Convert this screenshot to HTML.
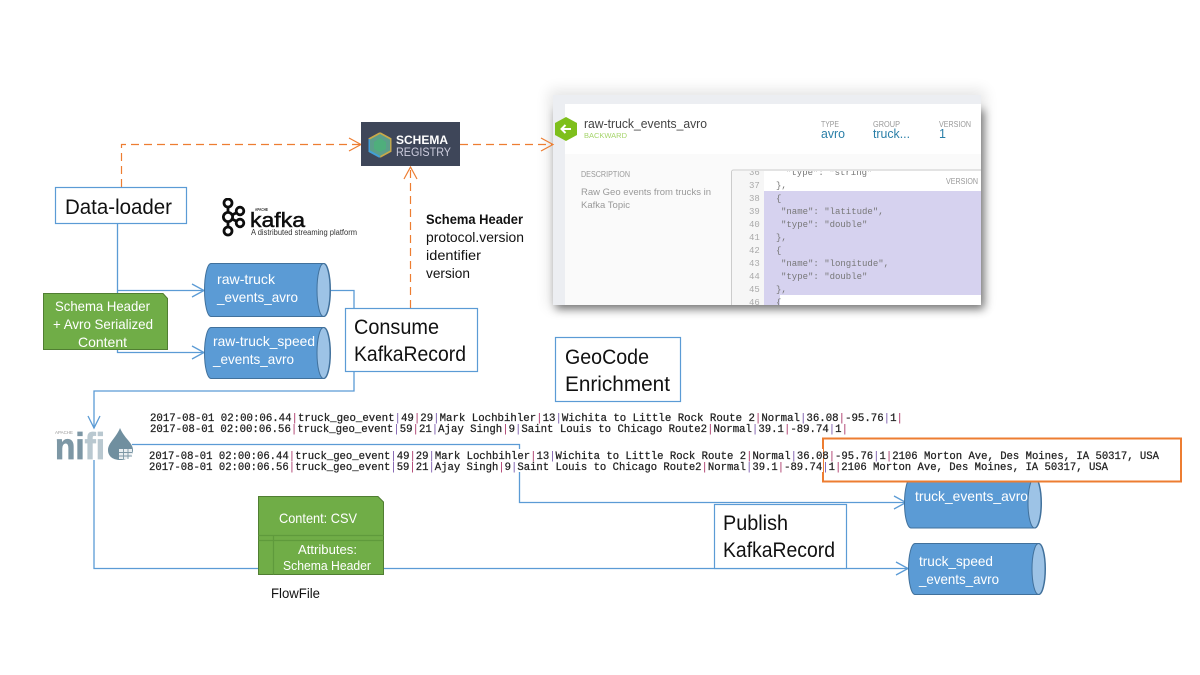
<!DOCTYPE html>
<html><head><meta charset="utf-8"><style>
html,body{margin:0;padding:0;background:#fff;width:1200px;height:675px;overflow:hidden}
svg{display:block}
text{font-family:"Liberation Sans",sans-serif}
.c{font-size:14px;fill:#111}
.w{font-size:14px;fill:#fff}
.b{font-size:21.5px;fill:#111}
.m{font-family:"Liberation Mono",monospace;font-size:10.7px;fill:#222;stroke:#222;stroke-width:.25}
.m tspan{fill:#a36;stroke:none}
.m tspan.p{fill:#75a}
.cd{font-family:"Liberation Mono",monospace;font-size:9px;fill:#777}
.n{font-family:"Liberation Mono",monospace;font-size:9px;fill:#aaa}
.g{font-size:8px;fill:#999}
.bl{font-size:12.5px;fill:#2b7fa8}
</style></head><body>
<svg width="1200" height="675" viewBox="0 0 1200 675" xmlns="http://www.w3.org/2000/svg">
<defs>
<filter id="sh" filterUnits="userSpaceOnUse" x="520" y="60" width="500" height="290"><feGaussianBlur stdDeviation="4.5"/></filter>
<filter id="sh2" filterUnits="userSpaceOnUse" x="520" y="60" width="500" height="290"><feGaussianBlur stdDeviation="7"/></filter>
<filter id="bl" x="-2%" y="-2%" width="104%" height="104%"><feGaussianBlur stdDeviation="0.35"/></filter>
<clipPath id="code"><rect x="732" y="171" width="249" height="134"/></clipPath>
</defs>

<!-- Screenshot panel -->
<rect x="549" y="90" width="436" height="218" fill="#000" opacity=".1" filter="url(#sh2)"/>
<rect x="556" y="110" width="428" height="199" fill="#000" opacity=".5" filter="url(#sh)"/>
<g filter="url(#bl)">
<rect x="553" y="95" width="428" height="210" fill="#eceef2"/>
<rect x="565" y="104" width="416" height="201" fill="#fafafa"/>
<rect x="565" y="104" width="416" height="50" fill="#fff"/>
<polygon points="566,117 577,123 577,135 566,141 555,135 555,123" fill="#7ebf1e"/>
<path d="M571 129h-9M565.500 125l-4 4 4 4" stroke="#fff" stroke-width="2" fill="none"/>
<text x="584" y="128" font-size="12.500" fill="#444" textLength="123" lengthAdjust="spacingAndGlyphs">raw-truck_events_avro</text>
<text x="584" y="138" font-size="7.500" fill="#a5d46a" textLength="43" lengthAdjust="spacingAndGlyphs">BACKWARD</text>
<text x="821" y="127" class="g" textLength="18" lengthAdjust="spacingAndGlyphs">TYPE</text>
<text x="821" y="138" class="bl" textLength="24" lengthAdjust="spacingAndGlyphs">avro</text>
<text x="873" y="127" class="g" textLength="27" lengthAdjust="spacingAndGlyphs">GROUP</text>
<text x="873" y="138" class="bl" textLength="37" lengthAdjust="spacingAndGlyphs">truck...</text>
<text x="939" y="127" class="g" textLength="32" lengthAdjust="spacingAndGlyphs">VERSION</text>
<text x="939" y="138" class="bl">1</text>
<text x="581" y="177" class="g" textLength="49" lengthAdjust="spacingAndGlyphs">DESCRIPTION</text>
<text x="581" y="195" font-size="9.500" fill="#999" textLength="130" lengthAdjust="spacingAndGlyphs">Raw Geo events from trucks in</text>
<text x="581" y="208" font-size="9.500" fill="#999" textLength="49" lengthAdjust="spacingAndGlyphs">Kafka Topic</text>
<path d="M731.500 305V172a2 2 0 0 1 2-2H981" fill="none" stroke="#ccc"/>
<rect x="732" y="171" width="249" height="134" fill="#fff"/>
<rect x="732" y="171" width="32" height="134" fill="#f6f6f6"/>
<rect x="764" y="191" width="217" height="104" fill="#d6d2ef"/>
<rect x="764" y="295" width="16" height="10" fill="#d6d2ef"/>
<g clip-path="url(#code)">
<text class="n" x="749" y="175">36</text><text class="n" x="749" y="188">37</text>
<text class="n" x="749" y="201">38</text><text class="n" x="749" y="214">39</text>
<text class="n" x="749" y="227">40</text><text class="n" x="749" y="240">41</text>
<text class="n" x="749" y="253">42</text><text class="n" x="749" y="266">43</text>
<text class="n" x="749" y="279">44</text><text class="n" x="749" y="292">45</text>
<text class="n" x="749" y="305">46</text>
<text class="cd" x="786" y="175">"type": "string"</text>
<text class="cd" x="776" y="188">},</text>
<text class="cd" x="776" y="201">{</text>
<text class="cd" x="781" y="214">"name": "latitude",</text>
<text class="cd" x="781" y="227">"type": "double"</text>
<text class="cd" x="776" y="240">},</text>
<text class="cd" x="776" y="253">{</text>
<text class="cd" x="781" y="266">"name": "longitude",</text>
<text class="cd" x="781" y="279">"type": "double"</text>
<text class="cd" x="776" y="292">},</text>
<text class="cd" x="776" y="305">{</text>
</g>
<rect x="946" y="175" width="35" height="12" fill="#fff" opacity=".85"/>
<text x="946" y="184" class="g" textLength="32" lengthAdjust="spacingAndGlyphs">VERSION</text>
</g>

<!-- Blue connectors -->
<g fill="none" stroke="#5b9bd5" stroke-width="1.300">
<path d="M117.500 223V352.500H204M117.500 290.500H204"/>
<path d="M192 284l12 6.500-12 6.500M192 346l12 6.500-12 6.500"/>
<path d="M330 290.500H354V391H94V428"/>
<path d="M88 416l6 12 6-12"/>
<path d="M94 460V568.500H258M384 568.500H908"/>
<path d="M896 562l12 6.500-12 6.500"/>
<path d="M132 444.500H519.500V502.500H906"/>
<path d="M894 496l12 6.500-12 6.500"/>
</g>

<!-- Orange connectors -->
<g fill="none" stroke="#ed7d31" stroke-width="1.200">
<path d="M121.500 187V144.500H361" stroke-dasharray="8 5"/>
<path d="M349 138l12 6.500-12 6.500"/>
<path d="M460 144.500H552" stroke-dasharray="8 5"/>
<path d="M541 138l12 6.500-12 6.500"/>
<path d="M410.500 308V167" stroke-dasharray="8 5"/>
<path d="M404 179l6.500-12 6.500 12"/>
</g>

<!-- Schema registry -->
<rect x="361" y="122" width="99" height="44" fill="#3e4659"/>
<g filter="url(#bl)">
<polygon points="380,133 391,139 391,151 380,157 369,151 369,139" fill="#5b9e8a" stroke="#c9a94a" stroke-width="1.800"/>
<polygon points="380,138 386,142 386,149 380,152 374,149 374,142" fill="#4fae7c"/>
<path d="M369 139v12l11 6" stroke="#3f9fd8" stroke-width="2" fill="none"/>
</g>
<text x="396" y="144" font-size="12" font-weight="bold" fill="#fff" textLength="52" lengthAdjust="spacingAndGlyphs">SCHEMA</text>
<text x="396" y="156" font-size="12" fill="#ccd" textLength="55" lengthAdjust="spacingAndGlyphs">REGISTRY</text>

<!-- Data loader -->
<rect x="55.500" y="187.500" width="131" height="36" fill="#fff" stroke="#5b9bd5" stroke-width="1.200"/>
<text x="65" y="214" class="b" textLength="107" lengthAdjust="spacingAndGlyphs">Data-loader</text>

<!-- Kafka -->
<g filter="url(#bl)">
<g fill="none" stroke="#111" stroke-width="2.800">
<path d="M228 203V231M228 217L240 211M228 217L240 223"/>
<circle cx="228" cy="203" r="4" fill="#fff"/>
<circle cx="228" cy="217" r="4.600" fill="#fff"/>
<circle cx="240" cy="211" r="3.800" fill="#fff"/>
<circle cx="240" cy="223" r="3.800" fill="#fff"/>
<circle cx="228" cy="231" r="4" fill="#fff"/>
</g>
<text x="255" y="211" font-size="4.500" font-weight="bold" fill="#333" textLength="13" lengthAdjust="spacingAndGlyphs">APACHE</text>
<text x="250" y="227" font-size="20" fill="#111" stroke="#111" stroke-width=".5" textLength="55" lengthAdjust="spacingAndGlyphs">kafka</text>
<text x="251" y="235" font-size="8" fill="#333" textLength="106" lengthAdjust="spacingAndGlyphs">A distributed streaming platform</text>
</g>

<!-- Cylinders -->
<g stroke="#41719c" stroke-width="1">
<path d="M211 263.500H324A6.500 26.500 0 0 1 324 316.500H211A6.500 26.500 0 0 1 211 263.500Z" fill="#5b9bd5"/>
<ellipse cx="323.500" cy="290" rx="6.500" ry="26.500" fill="#9dc3e6"/>
<path d="M211 327.500H324A6.500 25.500 0 0 1 324 378.500H211A6.500 25.500 0 0 1 211 327.500Z" fill="#5b9bd5"/>
<ellipse cx="323.500" cy="353" rx="6.500" ry="25.500" fill="#9dc3e6"/>
<path d="M911 478H1035A6.500 25 0 0 1 1035 528H911A6.500 25 0 0 1 911 478Z" fill="#5b9bd5"/>
<ellipse cx="1034.500" cy="503" rx="6.500" ry="25" fill="#9dc3e6"/>
<path d="M915 543.500H1039A6.500 25.500 0 0 1 1039 594.500H915A6.500 25.500 0 0 1 915 543.500Z" fill="#5b9bd5"/>
<ellipse cx="1038.500" cy="569" rx="6.500" ry="25.500" fill="#9dc3e6"/>
</g>
<text x="217" y="284" class="w" textLength="58" lengthAdjust="spacingAndGlyphs">raw-truck</text>
<text x="217" y="302" class="w" textLength="81" lengthAdjust="spacingAndGlyphs">_events_avro</text>
<text x="213" y="346" class="w" textLength="102" lengthAdjust="spacingAndGlyphs">raw-truck_speed</text>
<text x="213" y="364" class="w" textLength="81" lengthAdjust="spacingAndGlyphs">_events_avro</text>
<text x="919" y="566" class="w" textLength="74" lengthAdjust="spacingAndGlyphs">truck_speed</text>
<text x="919" y="584" class="w" textLength="80" lengthAdjust="spacingAndGlyphs">_events_avro</text>

<!-- Green note -->
<polygon points="43.500,293.500 163,293.500 167.500,298.500 167.500,349.500 43.500,349.500" fill="#70ad47" stroke="#507e32"/>
<text x="55" y="311" class="w" textLength="95" lengthAdjust="spacingAndGlyphs">Schema Header</text>
<text x="53" y="329" class="w" textLength="100" lengthAdjust="spacingAndGlyphs">+ Avro Serialized</text>
<text x="78" y="347" class="w" textLength="49" lengthAdjust="spacingAndGlyphs">Content</text>

<!-- Consume -->
<rect x="345.500" y="308.500" width="132" height="63" fill="#fff" stroke="#5b9bd5" stroke-width="1.200"/>
<text x="354" y="334" class="b" textLength="85" lengthAdjust="spacingAndGlyphs">Consume</text>
<text x="354" y="361" class="b" textLength="112" lengthAdjust="spacingAndGlyphs">KafkaRecord</text>

<!-- Schema Header label -->
<text x="426" y="224" font-size="14" font-weight="bold" fill="#111" textLength="97" lengthAdjust="spacingAndGlyphs">Schema Header</text>
<text x="426" y="242" class="c" textLength="98" lengthAdjust="spacingAndGlyphs">protocol.version</text>
<text x="426" y="260" class="c" textLength="55" lengthAdjust="spacingAndGlyphs">identifier</text>
<text x="426" y="278" class="c" textLength="44" lengthAdjust="spacingAndGlyphs">version</text>

<!-- GeoCode -->
<rect x="555.500" y="337.500" width="125" height="64" fill="#fff" stroke="#5b9bd5" stroke-width="1.200"/>
<text x="565" y="364" class="b" textLength="84" lengthAdjust="spacingAndGlyphs">GeoCode</text>
<text x="565" y="391" class="b" textLength="105" lengthAdjust="spacingAndGlyphs">Enrichment</text>

<!-- NiFi -->
<g filter="url(#bl)">
<text x="55" y="459" font-size="37" font-weight="bold" fill="#7d97a5" stroke="#7d97a5" stroke-width=".8" textLength="50" lengthAdjust="spacingAndGlyphs">ni<tspan fill="#b9c8d0" stroke="#b9c8d0">fi</tspan></text>
<text x="55" y="434" font-size="4.500" fill="#999" textLength="18" lengthAdjust="spacingAndGlyphs">APACHE</text>
<path d="M120 428C116 438 108 443 108 450C108 457 114 460 120 460C127 460 133 456 133 450C133 443 124 438 120 428Z" fill="#6f8f9f"/>
<rect x="119" y="449" width="13" height="10" fill="#fff" opacity=".85"/>
<path d="M119 452.500h13M119 456h13M123.500 449v10M128 449v10" stroke="#7d97a5" stroke-width=".9"/>
</g>

<!-- Log lines -->
<text class="m" x="150" y="421" textLength="753" lengthAdjust="spacingAndGlyphs">2017-08-01 02:00:06.44<tspan>|</tspan>truck_geo_event<tspan class="p">|</tspan>49<tspan>|</tspan>29<tspan class="p">|</tspan>Mark Lochbihler<tspan>|</tspan>13<tspan class="p">|</tspan>Wichita to Little Rock Route 2<tspan>|</tspan>Normal<tspan class="p">|</tspan>36.08<tspan>|</tspan>-95.76<tspan class="p">|</tspan>1<tspan>|</tspan></text>
<text class="m" x="150" y="432" textLength="698" lengthAdjust="spacingAndGlyphs">2017-08-01 02:00:06.56<tspan>|</tspan>truck_geo_event<tspan class="p">|</tspan>59<tspan>|</tspan>21<tspan class="p">|</tspan>Ajay Singh<tspan>|</tspan>9<tspan class="p">|</tspan>Saint Louis to Chicago Route2<tspan>|</tspan>Normal<tspan class="p">|</tspan>39.1<tspan>|</tspan>-89.74<tspan class="p">|</tspan>1<tspan>|</tspan></text>

<!-- Orange highlight box -->
<rect x="823" y="438.500" width="358" height="43" fill="#fff" stroke="#ed7d31" stroke-width="2"/>

<rect x="149" y="449" width="674" height="23" fill="#fff"/>
<text class="m" x="149" y="459" textLength="1010" lengthAdjust="spacingAndGlyphs">2017-08-01 02:00:06.44<tspan>|</tspan>truck_geo_event<tspan class="p">|</tspan>49<tspan>|</tspan>29<tspan class="p">|</tspan>Mark Lochbihler<tspan>|</tspan>13<tspan class="p">|</tspan>Wichita to Little Rock Route 2<tspan>|</tspan>Normal<tspan class="p">|</tspan>36.08<tspan>|</tspan>-95.76<tspan class="p">|</tspan>1<tspan>|</tspan>2106 Morton Ave, Des Moines, IA 50317, USA</text>
<text class="m" x="149" y="470" textLength="959" lengthAdjust="spacingAndGlyphs">2017-08-01 02:00:06.56<tspan>|</tspan>truck_geo_event<tspan class="p">|</tspan>59<tspan>|</tspan>21<tspan class="p">|</tspan>Ajay Singh<tspan>|</tspan>9<tspan class="p">|</tspan>Saint Louis to Chicago Route2<tspan>|</tspan>Normal<tspan class="p">|</tspan>39.1<tspan>|</tspan>-89.74<tspan class="p">|</tspan>1<tspan>|</tspan>2106 Morton Ave, Des Moines, IA 50317, USA</text>

<text x="915" y="501" class="w" textLength="113" lengthAdjust="spacingAndGlyphs">truck_events_avro</text>

<!-- Publish -->
<rect x="714.500" y="504.500" width="132" height="64" fill="#fff" stroke="#5b9bd5" stroke-width="1.200"/>
<text x="723" y="530" class="b" textLength="65" lengthAdjust="spacingAndGlyphs">Publish</text>
<text x="723" y="557" class="b" textLength="112" lengthAdjust="spacingAndGlyphs">KafkaRecord</text>

<!-- FlowFile -->
<polygon points="258.500,496.500 378,496.500 383.500,502 383.500,574.500 258.500,574.500" fill="#70ad47" stroke="#507e32"/>
<path d="M258.500 535.500H383.500M258.500 540.500H383.500M273.500 535.500V574.500" stroke="#5f9a3c" stroke-width="1.200" fill="none"/>
<text x="279" y="523" class="w" textLength="78" lengthAdjust="spacingAndGlyphs">Content: CSV</text>
<text x="298" y="554" font-size="13" fill="#fff" textLength="59" lengthAdjust="spacingAndGlyphs">Attributes:</text>
<text x="283" y="570" font-size="13" fill="#fff" textLength="88" lengthAdjust="spacingAndGlyphs">Schema Header</text>
<text x="271" y="598" class="c" textLength="49" lengthAdjust="spacingAndGlyphs">FlowFile</text>
</svg>
</body></html>
